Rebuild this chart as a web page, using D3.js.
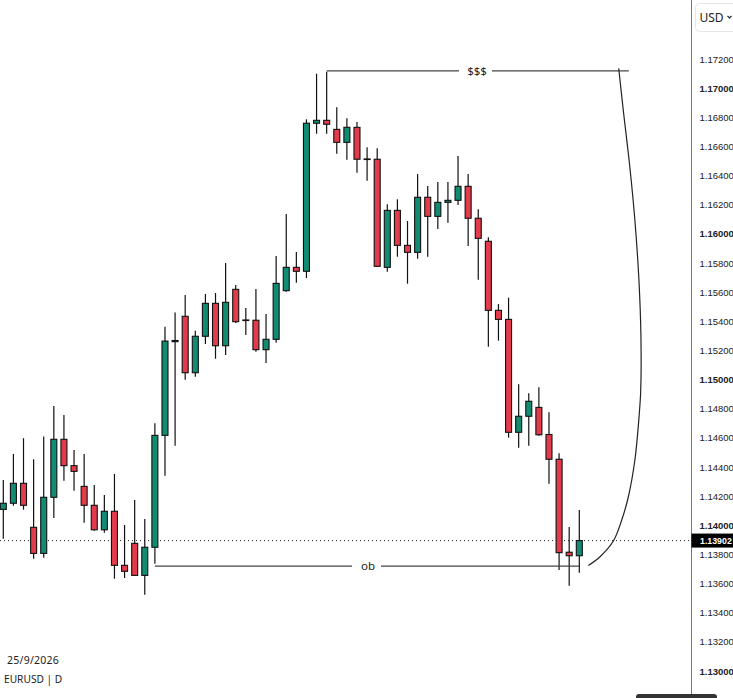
<!DOCTYPE html>
<html>
<head>
<meta charset="utf-8">
<title>EURUSD | D</title>
<script src="https://cdn.jsdelivr.net/npm/d3@7"></script>
<style>
  html, body { margin: 0; padding: 0; background: #fff; }
  svg { display: block; }
  text { font-family: "Noto Sans", sans-serif; fill: #222; }
  .axis text { font-family: "Liberation Sans", sans-serif; font-size: 9.5px; }
</style>
</head>
<body>
<svg id="chart" width="733" height="698"></svg>
<script>
const opens = [
  1.14116, 1.14158, 1.14295, 1.13993, 1.13814, 1.14199, 1.14597, 1.14416, 1.14274, 1.14144,
  1.13976, 1.14103, 1.13732, 1.13883, 1.13663, 1.13856, 1.14624, 1.15275, 1.15441, 1.15054,
  1.15304, 1.15530, 1.15239, 1.15626, 1.15416, 1.15414, 1.15212, 1.15283, 1.15617, 1.15777,
  1.15750, 1.16766, 1.16786, 1.16724, 1.16635, 1.16738, 1.16521, 1.16519, 1.15777, 1.16168,
  1.15928, 1.15880, 1.16258, 1.16127, 1.16223, 1.16237, 1.16333, 1.16114, 1.15956, 1.15482,
  1.15420, 1.14645, 1.14755, 1.14816, 1.14630, 1.14460, 1.13822, 1.13798
];
const highs = [
  1.14318, 1.14496, 1.14604, 1.14460, 1.14617, 1.14825, 1.14764, 1.14523, 1.14496, 1.14283,
  1.14215, 1.14359, 1.14009, 1.14180, 1.14050, 1.14707, 1.15370, 1.15468, 1.15587, 1.15342,
  1.15594, 1.15601, 1.15807, 1.15656, 1.15498, 1.15628, 1.15457, 1.15855, 1.16143, 1.15882,
  1.16793, 1.17106, 1.17120, 1.16875, 1.16800, 1.16774, 1.16601, 1.16594, 1.16210, 1.16244,
  1.16095, 1.16418, 1.16335, 1.16363, 1.16363, 1.16541, 1.16418, 1.16175, 1.15983, 1.15525,
  1.15569, 1.14974, 1.14913, 1.14954, 1.14782, 1.14501, 1.13995, 1.14112
];
const lows = [
  1.13915, 1.14141, 1.14114, 1.13777, 1.13784, 1.14057, 1.14313, 1.14244, 1.14024, 1.13970,
  1.13956, 1.13640, 1.13645, 1.13660, 1.13530, 1.13743, 1.14347, 1.14553, 1.15006, 1.15026,
  1.15251, 1.15150, 1.15175, 1.15395, 1.15313, 1.15198, 1.15121, 1.15260, 1.15610, 1.15672,
  1.15704, 1.16694, 1.16694, 1.16557, 1.16516, 1.16427, 1.16372, 1.15780, 1.15747, 1.15850,
  1.15665, 1.15836, 1.15850, 1.16040, 1.16083, 1.16205, 1.15923, 1.15692, 1.15232, 1.15274,
  1.14608, 1.14539, 1.14553, 1.14621, 1.14292, 1.13700, 1.13592, 1.13681
];
const closes = [
  1.14158, 1.14295, 1.14144, 1.13814, 1.14199, 1.14597, 1.14416, 1.14377, 1.14144, 1.13976,
  1.14103, 1.13732, 1.13691, 1.13663, 1.13856, 1.14624, 1.15271, 1.15267, 1.15054, 1.15304,
  1.15530, 1.15239, 1.15537, 1.15404, 1.15412, 1.15212, 1.15283, 1.15667, 1.15777, 1.15750,
  1.16766, 1.16786, 1.16759, 1.16635, 1.16738, 1.16519, 1.16517, 1.15784, 1.16168, 1.15928,
  1.15880, 1.16258, 1.16127, 1.16223, 1.16237, 1.16333, 1.16114, 1.15976, 1.15482, 1.15420,
  1.14645, 1.14755, 1.14858, 1.14628, 1.14460, 1.13819, 1.13798, 1.13902
];

const priceTicks = [
  1.172, 1.170, 1.168, 1.166, 1.164, 1.162, 1.160, 1.158, 1.156, 1.154, 1.152,
  1.150, 1.148, 1.146, 1.144, 1.142, 1.140, 1.138, 1.136, 1.134, 1.132, 1.130
];
const boldTicks = [1.170, 1.160, 1.150, 1.140, 1.130];
const lastPrice = 1.13902;

// drawings on the chart, bar index / price
const topLevel = 1.17125;
const obLevel = 1.13727;
const curveBars = [60.9, 61.35, 62.0, 62.5, 62.9, 63.1, 63.08, 62.94, 62.5, 61.85, 61.2, 60.37, 59.05, 57.9];
const curvePrices = [1.17143, 1.16857, 1.16466, 1.16102, 1.15690, 1.15299, 1.14935, 1.14777, 1.14455, 1.14201, 1.14043, 1.13899, 1.13791, 1.13731];

const svg = d3.select('#chart');

let x = d3.scaleLinear().domain([0, 57]).range([3.3, 579.3]);
let y = d3.scaleLinear().domain([1.13, 1.172]).range([672, 60]);

const axisX = 691.5;
const green = '#118c72';
const red = '#e33b4b';
const ink = '#111';

// last price line
svg.append('line')
  .attr('x1', 0).attr('x2', axisX)
  .attr('y1', y(lastPrice)).attr('y2', y(lastPrice))
  .attr('stroke', '#222')
  .attr('stroke-width', 1)
  .attr('stroke-dasharray', '1 3');

// candles
let candles = svg.append('g').selectAll('g')
  .data(opens.map((o, i) => ({ i, o, h: highs[i], l: lows[i], c: closes[i] })))
  .join('g');

candles.append('line')
  .attr('x1', d => x(d.i)).attr('x2', d => x(d.i))
  .attr('y1', d => y(d.h)).attr('y2', d => y(d.l))
  .attr('stroke', ink)
  .attr('stroke-width', 1.2);

candles.append('rect')
  .attr('x', d => x(d.i) - 3)
  .attr('width', 6)
  .attr('y', d => y(Math.max(d.o, d.c)))
  .attr('height', d => Math.abs(y(d.o) - y(d.c)))
  .attr('fill', d => d.c >= d.o ? green : red)
  .attr('stroke', ink)
  .attr('stroke-width', 1.1);

// $$$ level and ob level, both broken around their label
function levelLine(level, fromBar, toBar, label, gapLeft, gapRight, labelX) {
  let yy = y(level);
  let g = svg.append('g');
  g.append('line')
    .attr('x1', x(fromBar)).attr('x2', gapLeft)
    .attr('y1', yy).attr('y2', yy);
  g.append('line')
    .attr('x1', gapRight).attr('x2', x(toBar))
    .attr('y1', yy).attr('y2', yy);
  g.selectAll('line').attr('stroke', '#444').attr('stroke-width', 1.2);
  g.append('text')
    .attr('x', labelX)
    .attr('y', yy + 4)
    .attr('text-anchor', 'middle')
    .attr('font-size', 11.5)
    .text(label);
}
levelLine(topLevel, 32, 61.9, '$$$', 459, 492, 477);
levelLine(obLevel, 15, 57, 'ob', 352, 381, 368);

// hand drawn curve between the two levels
let curve = d3.line()
  .x(d => x(d[0]))
  .y(d => y(d[1]))
  .curve(d3.curveCatmullRom);

svg.append('path')
  .attr('d', curve(curveBars.map((b, i) => [b, curvePrices[i]])))
  .attr('fill', 'none')
  .attr('stroke', '#222')
  .attr('stroke-width', 1.2);

// price axis
let axis = d3.axisRight(y)
  .tickValues(priceTicks)
  .tickSize(0)
  .tickPadding(8)
  .tickFormat(d3.format('.5f'));

let axisG = svg.append('g')
  .attr('class', 'axis')
  .attr('transform', `translate(${axisX},0)`)
  .call(axis);

axisG.select('.domain').remove();
axisG.selectAll('.tick text')
  .attr('y', -1)
  .attr('font-weight', d => boldTicks.includes(d) ? 'bold' : 'normal');

svg.append('line')
  .attr('x1', axisX).attr('x2', axisX)
  .attr('y1', 0).attr('y2', 698)
  .attr('stroke', '#777')
  .attr('stroke-width', 1);

// last price tag
svg.append('rect')
  .attr('x', axisX).attr('width', 733 - axisX)
  .attr('y', y(lastPrice) - 7).attr('height', 14)
  .attr('fill', '#000');
svg.append('text')
  .attr('x', axisX + 8.5)
  .attr('y', y(lastPrice) + 3.5)
  .attr('font-size', 8.8)
  .attr('font-weight', 'bold')
  .style('font-family', '"Liberation Sans", sans-serif')
  .style('fill', '#fff')
  .text(d3.format('.5f')(lastPrice));

// currency selector
svg.append('rect')
  .attr('x', 695.5).attr('y', 3.5)
  .attr('width', 45).attr('height', 28)
  .attr('rx', 4)
  .attr('fill', '#fff')
  .attr('stroke', '#e6e6e6');
svg.append('text')
  .attr('x', 699.5).attr('y', 22)
  .attr('font-size', 12)
  .text('USD');
svg.append('path')
  .attr('d', d3.line()([[727.5, 16], [729.5, 18], [731.5, 16]]))
  .attr('fill', 'none')
  .attr('stroke', '#222')
  .attr('stroke-width', 1.2);

// date and symbol labels
svg.append('text').attr('x', 7).attr('y', 664).attr('font-size', 10.5).attr('letter-spacing', 0.25).text('25/9/2026');
svg.append('text').attr('x', 4).attr('y', 683).attr('font-size', 10.2).text('EURUSD | D');

// dark strip cut off by the bottom edge
svg.append('rect')
  .attr('x', 636).attr('y', 694)
  .attr('width', 81).attr('height', 10)
  .attr('rx', 3)
  .attr('fill', '#333');
</script>
</body>
</html>
